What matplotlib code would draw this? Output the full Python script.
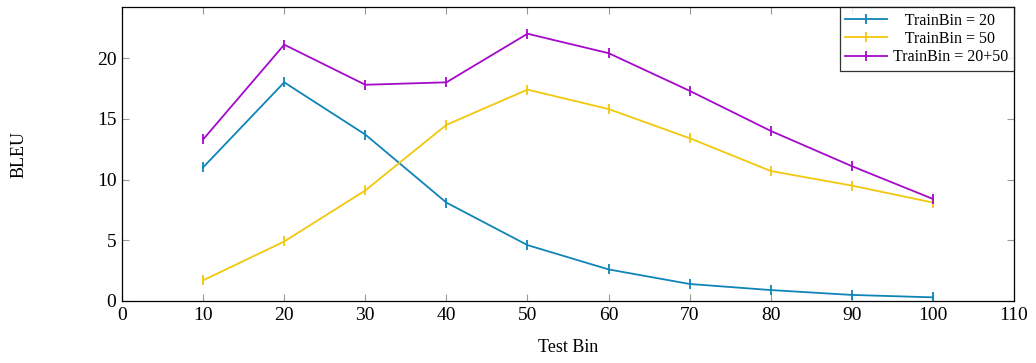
import matplotlib
matplotlib.use("Agg")
import matplotlib.pyplot as plt

plt.rcParams["font.family"] = "serif"
plt.rcParams["font.serif"] = ["Liberation Serif", "DejaVu Serif"]

# BLEU per test bin for each training setup
test_bins = [10, 20, 30, 40, 50, 60, 70, 80, 90, 100]
bleu_train20 = [11.0, 18.0, 13.7, 8.1, 4.6, 2.6, 1.4, 0.9, 0.5, 0.3]
bleu_train50 = [1.7, 4.9, 9.1, 14.5, 17.4, 15.8, 13.4, 10.7, 9.5, 8.1]
bleu_train20_50 = [13.3, 21.1, 17.8, 18.0, 22.0, 20.4, 17.3, 14.0, 11.1, 8.4]
# shorter labels padded so the legend text looks centred
labels = ["   TrainBin = 20", "   TrainBin = 50", "TrainBin = 20+50"]
colors = ["#0f84b8", "#f2c80c", "#a40ac8"]

fig = plt.figure(figsize=(10.36, 3.63), dpi=100)
ax = fig.add_axes([0.1178, 0.1708, 0.8610, 0.8099])

for ys, lab, c in zip([bleu_train20, bleu_train50, bleu_train20_50], labels, colors):
    ax.plot(test_bins, ys, marker="|", markersize=6.5, markeredgewidth=1.3,
            linewidth=1.3, color=c, label=lab)

ax.set_xlim(0, 110)
ax.set_ylim(0, 24.2)
ax.set_xticks(range(0, 111, 10))
ax.set_yticks([0, 5, 10, 15, 20])

ax.tick_params(axis="both", direction="in", length=5, width=0.8, color="#999999",
               top=True, right=True, labelsize=14, pad=4)
for s in ax.spines.values():
    s.set_linewidth(0.9)
    s.set_color("black")

ax.set_xlabel("Test Bin", fontsize=13, labelpad=11)
ax.set_ylabel("BLEU", fontsize=13, labelpad=50)

leg = ax.legend(loc="upper right", fontsize=11.5, frameon=True, fancybox=False,
                edgecolor="black", borderaxespad=0.0, handlelength=2.6,
                labelspacing=0.15, borderpad=0.35, handletextpad=0.4)
leg.get_frame().set_linewidth(0.9)

fig.savefig("out.png", dpi=100)
